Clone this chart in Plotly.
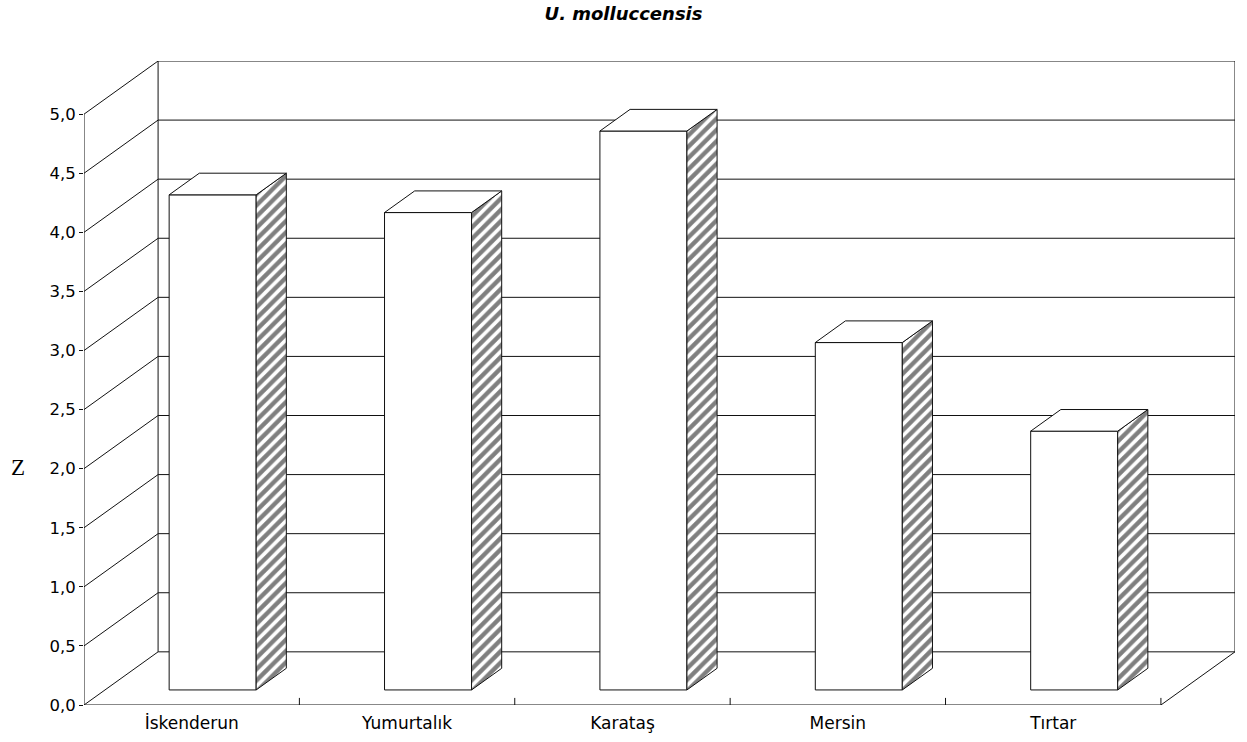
import plotly.graph_objects as go

# Data
categories = ["İskenderun", "Yumurtalık", "Karataş", "Mersin", "Tırtar"]
z_values = [4.19, 4.04, 4.73, 2.94, 2.19]
y_ticks = [0.0, 0.5, 1.0, 1.5, 2.0, 2.5, 3.0, 3.5, 4.0, 4.5, 5.0]
y_tick_labels = ["0,0", "0,5", "1,0", "1,5", "2,0", "2,5", "3,0", "3,5", "4,0", "4,5", "5,0"]

# Oblique projection: a point at depth d (0 = front plane, 1 = back wall)
# is shifted right by d*DEPTH_X categories and up by d*DEPTH_Y value units.
DEPTH_X = 0.344
DEPTH_Y = 0.45
Y_MAX = 5.0
N = len(categories)

BAR_HALF = 0.202      # half bar width, in category units
BAR_D0 = 0.283        # depth of bar front face
BAR_D1 = 0.69         # depth of bar back face

LINE = dict(color="#111111", width=1)
SANS = "DejaVu Sans, Arial, sans-serif"


def proj(x, y, d):
    return x + d * DEPTH_X, y + d * DEPTH_Y


def segments(pairs):
    xs, ys = [], []
    for (a, b) in pairs:
        for p in (a, b):
            px, py = proj(*p)
            xs.append(px)
            ys.append(py)
        xs.append(None)
        ys.append(None)
    return xs, ys


def polygon(points):
    xs, ys = [], []
    for p in points + [points[0]]:
        px, py = proj(*p)
        xs.append(px)
        ys.append(py)
    return xs, ys


fig = go.Figure()

# Back wall: border and horizontal grid lines
frame = []
for v in y_ticks:
    frame.append(((0, v, 1), (N, v, 1)))
frame.append(((0, 0, 1), (0, Y_MAX, 1)))
frame.append(((N, 0, 1), (N, Y_MAX, 1)))
# Left wall: diagonals at each tick
for v in y_ticks:
    frame.append(((0, v, 0), (0, v, 1)))
# Floor right edge
frame.append(((N, 0, 0), (N, 0, 1)))
# Front y axis line and front floor line
frame.append(((0, 0, 0), (0, Y_MAX, 0)))
frame.append(((0, 0, 0), (N, 0, 0)))
# Category boundary ticks on the front floor edge
for k in range(1, N + 1):
    frame.append(((k, 0, 0), (k, 0.06, 0)))

fx_, fy_ = segments(frame)
fig.add_trace(go.Scatter(x=fx_, y=fy_, mode="lines", line=LINE,
                         hoverinfo="skip", showlegend=False))

# Bars drawn as three visible faces
for i, v in enumerate(z_values):
    cx = i + 0.5
    xl, xr = cx - BAR_HALF, cx + BAR_HALF

    front = [(xl, 0, BAR_D0), (xr, 0, BAR_D0), (xr, v, BAR_D0), (xl, v, BAR_D0)]
    side = [(xr, 0, BAR_D0), (xr, 0, BAR_D1), (xr, v, BAR_D1), (xr, v, BAR_D0)]
    top = [(xl, v, BAR_D0), (xr, v, BAR_D0), (xr, v, BAR_D1), (xl, v, BAR_D1)]

    px, py = polygon(front)
    fig.add_trace(go.Scatter(x=px, y=py, mode="lines", fill="toself",
                             fillcolor="white", line=LINE,
                             hoverinfo="skip", showlegend=False))
    px, py = polygon(side)
    fig.add_trace(go.Scatter(x=px, y=py, mode="lines", fill="toself",
                             fillcolor="white",
                             fillpattern=dict(shape="/", size=8, solidity=0.55,
                                              fgcolor="black", bgcolor="white"),
                             line=LINE, hoverinfo="skip", showlegend=False))
    px, py = polygon(top)
    fig.add_trace(go.Scatter(x=px, y=py, mode="lines", fill="toself",
                             fillcolor="white", line=LINE,
                             hoverinfo="skip", showlegend=False))

fig.update_layout(
    width=1247, height=742,
    margin=dict(l=84, r=12, t=61, b=37, autoexpand=False),
    paper_bgcolor="white", plot_bgcolor="white",
    font=dict(family=SANS, size=16.5, color="black"),
    title=dict(text="<b><i>U. molluccensis</i></b>", xref="container", x=0.5,
               yref="container", y=1 - 14 / 742, xanchor="center", yanchor="middle",
               font=dict(family=SANS, size=18), automargin=False),
    xaxis=dict(range=[0, N + DEPTH_X], tickvals=[i + 0.5 for i in range(N)],
               ticktext=categories, ticks="", showgrid=False, zeroline=False,
               showline=False, fixedrange=True, ticklabelstandoff=6,
               automargin=False, tickfont=dict(family=SANS, size=17)),
    yaxis=dict(range=[0, Y_MAX + DEPTH_Y], tickvals=y_ticks, ticktext=y_tick_labels,
               ticks="outside", ticklen=4, tickcolor="#111111", showgrid=False,
               zeroline=False, showline=False, fixedrange=True, automargin=False,
               tickfont=dict(family=SANS, size=16.5)),
    annotations=[dict(text="Z", xref="paper", yref="paper",
                      x=(18 - 84) / 1151, y=(705 - 467) / 644,
                      xanchor="center", yanchor="middle", showarrow=False,
                      font=dict(family="Liberation Serif, Times New Roman, serif",
                                size=23, color="black"))],
)

fig.write_html("out.html")
